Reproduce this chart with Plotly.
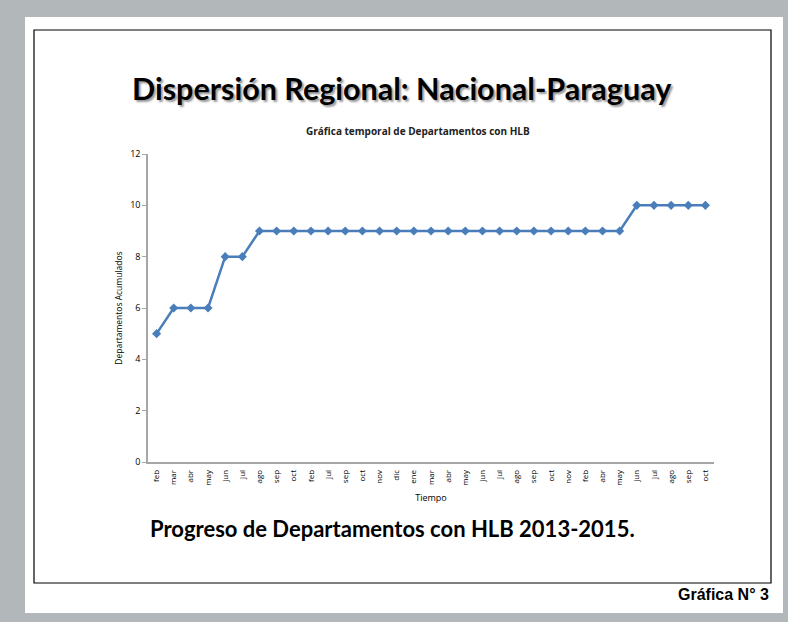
import plotly.graph_objects as go

months = ["feb", "mar", "abr", "may", "jun", "jul", "ago", "sep", "oct", "feb", "jul",
          "sep", "oct", "nov", "dic", "ene", "mar", "abr", "may", "jun", "jul", "ago",
          "sep", "oct", "nov", "feb", "abr", "may", "jun", "jul", "ago", "sep", "oct"]
departamentos = [5, 6, 6, 6, 8, 8, 9, 9, 9, 9, 9, 9, 9, 9, 9, 9, 9, 9, 9, 9, 9, 9,
                 9, 9, 9, 9, 9, 9, 10, 10, 10, 10, 10]
y_ticks = [0, 2, 4, 6, 8, 10, 12]

W, H = 788, 622
L, R, T, B = 148, 714, 154, 462

def px(x):
    return (x - L) / (R - L)

def py(y):
    return (B - y) / (B - T)

idx = list(range(len(months)))

fig = go.Figure()
fig.add_trace(go.Scatter(
    x=idx, y=departamentos, mode="lines+markers",
    line=dict(color="#4A7EBB", width=2.5),
    marker=dict(symbol="diamond", size=7, color="#4A7EBB"),
    showlegend=False,
))

fig.update_layout(
    width=W, height=H,
    margin=dict(l=L, r=W - R, t=T, b=H - B, pad=0),
    paper_bgcolor="#B2B7BA",
    plot_bgcolor="rgba(0,0,0,0)",
    font=dict(family="Open Sans", color="#000000"),
    xaxis=dict(
        range=[-0.5, len(months) - 0.5],
        tickmode="array", tickvals=idx, ticktext=months,
        tickangle=-90, tickfont=dict(size=8, family="Open Sans"),
        showgrid=False, zeroline=False,
        showline=True, linecolor="#A6A6A6", linewidth=1.5,
        ticks="outside", ticklen=3, tickcolor="rgba(0,0,0,0)",
        title=dict(text="Tiempo", font=dict(size=9), standoff=10),
    ),
    yaxis=dict(
        range=[0, 12], tickmode="array", tickvals=y_ticks,
        tickfont=dict(size=9, family="Open Sans"),
        showgrid=False, zeroline=False,
        showline=True, linecolor="#A6A6A6", linewidth=1.5,
        ticks="outside", ticklen=4, tickcolor="#A6A6A6",
        title=dict(text="Departamentos Acumulados", font=dict(size=8.5), standoff=6),
    ),
    shapes=[
        dict(type="rect", xref="paper", yref="paper", layer="below",
             x0=px(25), x1=px(783), y0=py(17), y1=py(613),
             fillcolor="white", line=dict(width=0)),
        dict(type="rect", xref="paper", yref="paper", layer="below",
             x0=px(34), x1=px(771), y0=py(30), y1=py(583),
             fillcolor="rgba(0,0,0,0)", line=dict(color="black", width=1.2)),
    ],
    annotations=[
        dict(text="<b>Dispersión Regional: Nacional-Paraguay</b>", xref="paper", yref="paper",
             x=px(402), y=py(88), showarrow=False, xanchor="center", yanchor="middle",
             font=dict(family="Lato", size=30.5, color="#000000", shadow="2px 2px 2px #9a9a9a")),
        dict(text="<b>Gráfica temporal de Departamentos con HLB</b>", xref="paper", yref="paper",
             x=px(418), y=py(131), showarrow=False, xanchor="center", yanchor="middle",
             font=dict(family="Open Sans", size=10, color="#222222")),
        dict(text="<b>Progreso de Departamentos con HLB 2013-2015.</b>", xref="paper", yref="paper",
             x=px(148), y=py(528), showarrow=False, xanchor="left", yanchor="middle",
             font=dict(family="Lato", size=22, color="#000000")),
        dict(text="<b>Gráfica N° 3</b>", xref="paper", yref="paper",
             x=px(771), y=py(594), showarrow=False, xanchor="right", yanchor="middle",
             font=dict(family="Liberation Sans", size=16, color="#000000")),
    ],
)

fig.write_html(
    "out.html",
    config={"displayModeBar": False},
    post_script="document.body.style.margin='0';document.body.style.overflow='hidden';"
                "document.body.style.background='#B2B7BA';",
)
